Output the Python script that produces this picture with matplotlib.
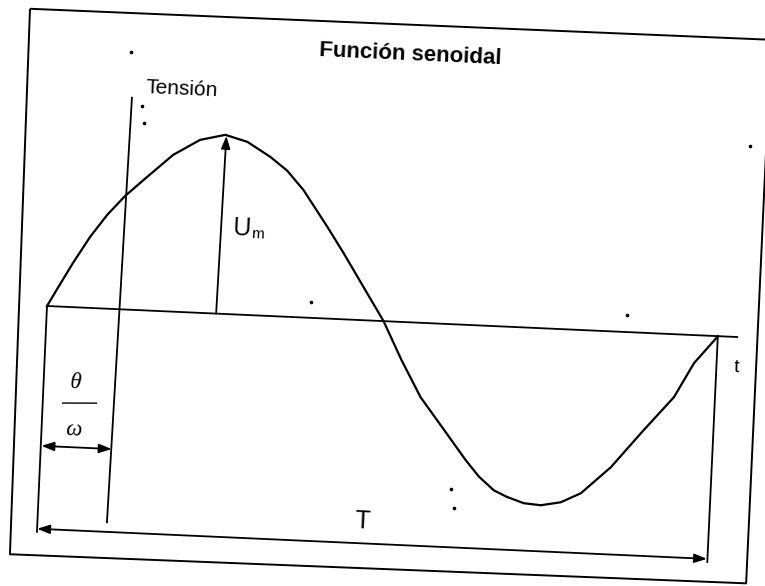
import numpy as np
import matplotlib
matplotlib.use('Agg')
import matplotlib.pyplot as plt
from matplotlib.transforms import Affine2D

plt.rcParams['font.family'] = ['Liberation Sans', 'DejaVu Sans']

# diagram units: time along the axis, voltage up
curve_t = [0, 10, 23.5, 39, 54.8, 71.7, 92.6, 117.3, 143.4, 168.2, 190.6,
           214.4, 232, 249.3, 275.4, 293, 314.9, 336.9, 357, 378.2, 402,
           426.9, 441, 456.6, 470, 487.3, 504.5, 524.3, 543.8, 572.3, 600.3,
           631.2, 649.3, 671.7]
curve_u = [0, 19, 44.2, 70.9, 93.7, 113.5, 133.5, 156.7, 172.9, 179, 173,
           159, 146, 127.5, 91.6, 66.3, 33.2, 0, -38, -74.3, -104,
           -135.2, -151, -164, -170, -175.6, -176.9, -173, -163.1, -135.7, -100.4,
           -62.9, -28, 0]

t_end = 691.8          # end of time axis
t_origin = 72.8        # where the voltage axis stands
t_peak = 169.3         # Um arrow position
u_peak = 178
u_axis = (-214.3, 212.8)
u_theta = -140         # theta/omega dimension
u_period = -223        # T dimension
u_dim = -227           # bottom of dimension lines
t_start, t_stop = 1.5, 672.5

frame_t = [-34.1, 707.7, 714, -22.7, -34.1]
frame_u = [296.2, 298.5, -245.7, -249.7, 296.2]

specks_t = [69.4, 83.5, 86.5, 692.8, 263.8, 579.5, 413.5, 417.6]
specks_u = [257.8, 204.3, 187.4, 191.5, 15.9, 17, -164.9, -183.8]

fig = plt.figure(figsize=(7.65, 5.86), dpi=100)
ax = fig.add_axes([0, 0, 1, 1])
ax.set_xlim(0, 765)
ax.set_ylim(586, 0)
ax.axis('off')

# the scan is slightly skewed: map diagram units onto the page
skew = Affine2D(np.array([[0.999, 0.0576, 47.0],
                          [0.0449, -0.9983, 306.0],
                          [0, 0, 1]]))
tr = skew + ax.transData
rot = -2.57

k = dict(color='black', transform=tr, solid_capstyle='butt')
ax.plot(frame_t, frame_u, lw=1.4, **k)
ax.plot(curve_t, curve_u, lw=1.6, solid_joinstyle='round', color='black', transform=tr)
ax.plot([0, t_end], [0, 0], lw=1.3, **k)
ax.plot([t_origin, t_origin - 0.5], [u_axis[1], u_axis[0]], lw=1.3, **k)
ax.plot([0, 3], [0, u_dim], lw=1.3, **k)
ax.plot([t_stop - 1, t_stop + 1.5], [0, u_dim], lw=1.3, **k)
ax.plot(specks_t, specks_u, 'o', color='black', ms=1.6, transform=tr)

def arrow(p0, p1, style):
    ax.annotate('', xy=p1, xytext=p0, xycoords=tr, textcoords=tr,
                arrowprops=dict(arrowstyle=style + ',head_length=0.5,head_width=0.18',
                                color='black', lw=1.3, shrinkA=0, shrinkB=0,
                                mutation_scale=15))

arrow((t_peak, 0), (t_peak, u_peak), '-|>')
arrow((t_start + 1, u_theta), (t_origin, u_theta), '<|-|>')
arrow((t_start + 1.5, u_period), (t_stop + 1, u_period), '<|-|>')

# fraction bar of theta/omega
ax.plot([20.6, 55.6], [-96.3, -94.8], lw=1.0, **k)

txt = dict(transform=tr, rotation=rot, rotation_mode='anchor', color='black')
ax.text(348.4, 261.8, 'Función senoidal', fontsize=16, fontweight='bold',
        ha='center', va='baseline', **txt)
ax.text(85.7, 217.4, 'Tensión', fontsize=15, ha='left', va='baseline', **txt)
ax.text(180.9, 79.3, 'U', fontsize=18, ha='left', va='baseline', **txt)
ax.text(200.1, 77.2, 'm', fontsize=11, ha='left', va='baseline', **txt)
ax.text(327.8, -207.9, 'T', fontsize=18, ha='center', va='baseline', **txt)
ax.text(691.8, -35.1, 't', fontsize=14, ha='center', va='baseline', **txt)
ax.text(32.9, -75.2, 'θ', fontsize=16.5, family='Liberation Serif', style='italic',
        ha='center', va='center', **txt)
ax.text(33.6, -122.8, 'ω', fontsize=16.5, family='Liberation Serif', style='italic',
        ha='center', va='center', **txt)

fig.savefig('out.png', dpi=100, facecolor='white')
